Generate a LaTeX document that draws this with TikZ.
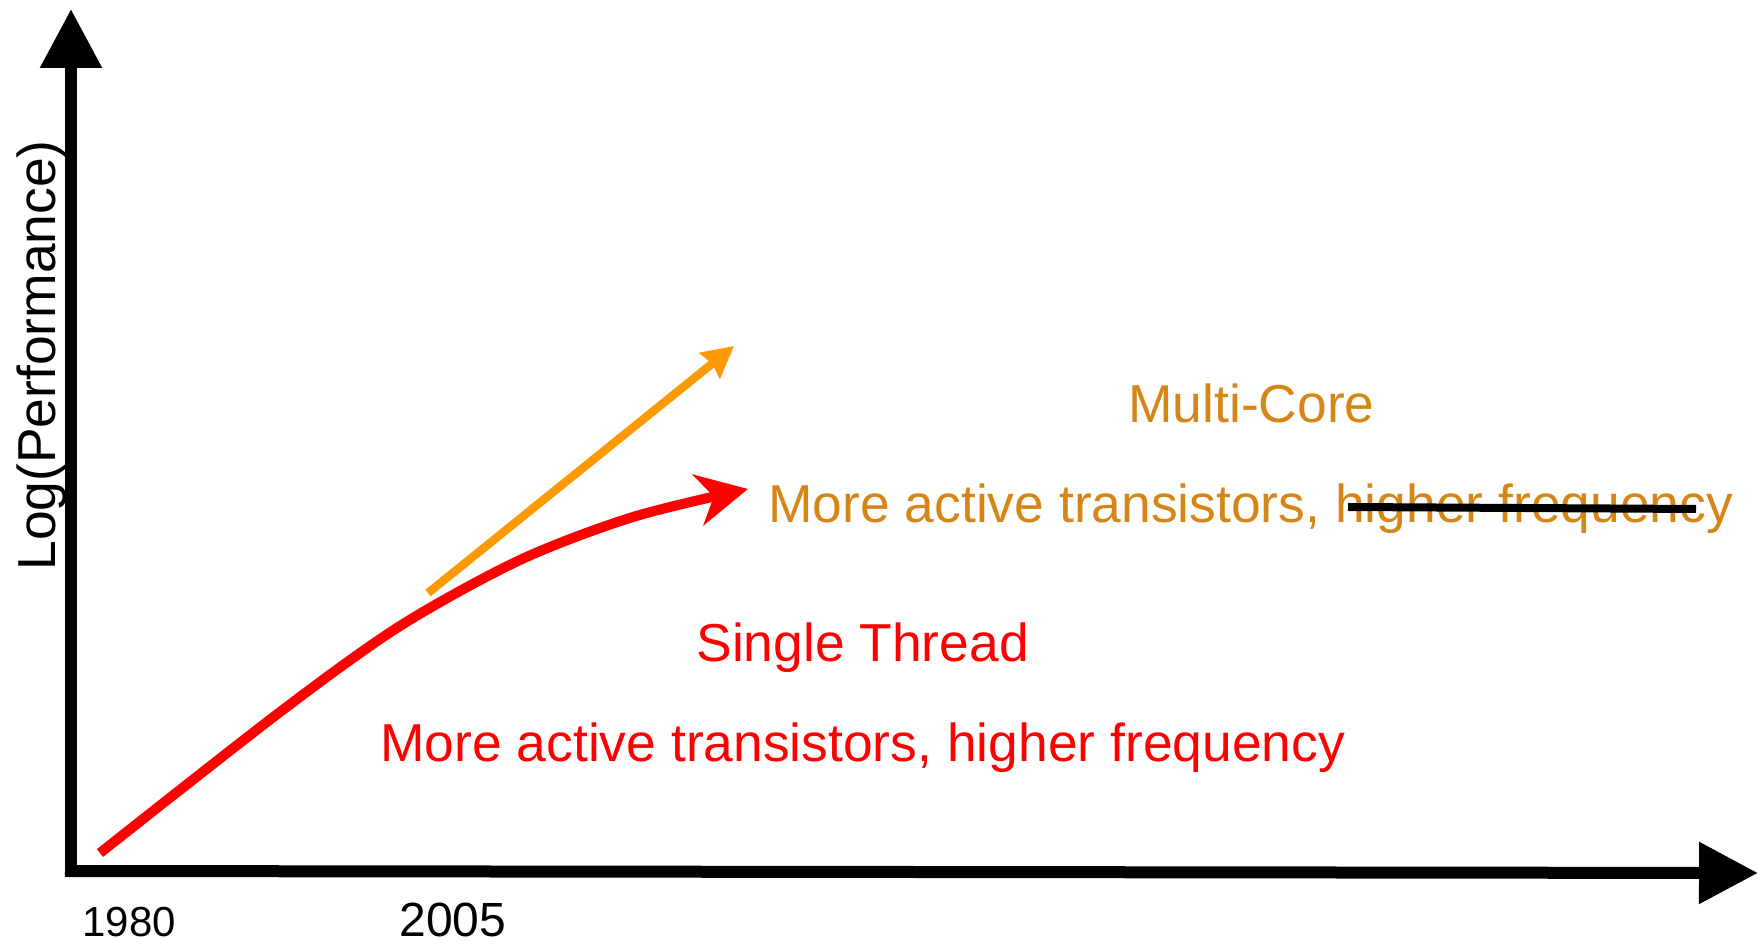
\documentclass[tikz,border=0pt]{standalone}
\usepackage{fontspec}
\setmainfont{Liberation Sans}
\usetikzlibrary{arrows.meta}
\definecolor{mcorange}{RGB}{213,134,22}
\definecolor{lineorange}{RGB}{255,153,0}
\definecolor{pured}{RGB}{255,0,0}
\tikzset{
  axisline/.style={line width=6pt, -{Triangle[length=29.5pt,width=29.5pt]}},
  bigtext/.style={inner sep=0pt, anchor=base west, font=\fontsize{26.7}{30}\selectfont},
}
\begin{document}
\begin{tikzpicture}[x=0.5pt,y=-0.5pt]
\useasboundingbox (0,0) rectangle (1758,945);
% axes
\coordinate (ybot) at (71,877);
\coordinate (ytop) at (71,9);
\coordinate (xleft) at (65,871);
\coordinate (xright) at (1758,873);
\draw[axisline] (ybot) -- (ytop);
\draw[axisline] (xleft) -- (xright);
% orange arrow
\coordinate (os) at (428,593);
\coordinate (oe) at (734,346);
\draw[lineorange, line width=4.2pt, -{Stealth[length=15.5pt,width=16pt,inset=1.5pt]}] (os) -- (oe);
% red curve
\coordinate (rs) at (100,853);
\coordinate (re) at (748,489);
\draw[pured, line width=5pt, -{Stealth[length=25.5pt,width=25.8pt,inset=8pt]}]
  plot[smooth, tension=0.5] coordinates {(rs) (280,712) (400,626) (520,560) (633,517) (re)};
% texts
\node[bigtext, text=mcorange] (mc) at (1128,423) {Multi-Core};
\node[bigtext, text=mcorange] (omore) at (768,523) {More active transistors, higher frequency};
\node[bigtext, text=pured] (st) at (696,662) {Single Thread};
\node[bigtext, text=pured] (rmore) at (380,762) {More active transistors, higher frequency};
\node[bigtext, rotate=90] (ylab) at (55,571) {Log(Performance)};
\node[inner sep=0pt, anchor=base west, font=\fontsize{21}{24}\selectfont] (y1980) at (82,937) {1980};
\node[inner sep=0pt, anchor=base west, font=\fontsize{24}{27}\selectfont] (y2005) at (399,937) {2005};
% strike-through
\coordinate (ss) at (1348,507);
\coordinate (se) at (1696,509);
\draw[black, line width=4pt] (ss) -- (se);
\end{tikzpicture}
\end{document}
